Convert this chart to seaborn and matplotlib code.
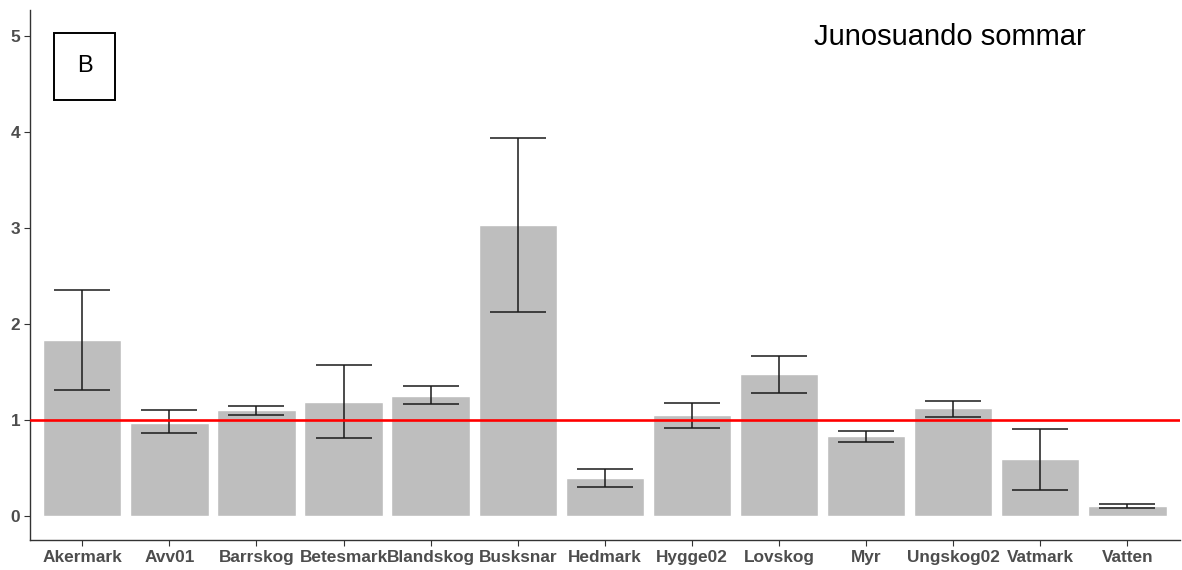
import numpy as np
import pandas as pd
import matplotlib
matplotlib.use("Agg")
import matplotlib.pyplot as plt
import seaborn as sns

# ----------------------------------------------------------
# Data
# ----------------------------------------------------------
categories = ["Akermark", "Avv01", "Barrskog", "Betesmark", "Blandskog", "Busksnar",
              "Hedmark", "Hygge02", "Lovskog", "Myr", "Ungskog02", "Vatmark", "Vatten"]
values = [1.83, 0.97, 1.10, 1.19, 1.25, 3.03, 0.40, 1.05, 1.48, 0.83, 1.12, 0.59, 0.10]
err_low = [1.31, 0.86, 1.05, 0.81, 1.17, 2.12, 0.30, 0.92, 1.28, 0.77, 1.03, 0.27, 0.08]
err_high = [2.35, 1.10, 1.15, 1.57, 1.35, 3.94, 0.49, 1.18, 1.67, 0.89, 1.20, 0.91, 0.125]
y_ticks = [0, 1, 2, 3, 4, 5]

df = pd.DataFrame({"habitat": categories, "value": values})

sns.set_style("white")
plt.rcParams["font.family"] = ["Liberation Sans", "DejaVu Sans"]

fig = plt.figure(figsize=(11.82, 5.70), dpi=100)
ax = fig.add_axes([0.0254, 0.0526, 0.9726, 0.9298])

sns.barplot(data=df, x="habitat", y="value", color="#bebebe", saturation=1,
            width=0.9, errorbar=None, ax=ax)

# error bars
pos = np.arange(len(categories))
vals = np.array(values)
yerr = np.vstack([vals - np.array(err_low), np.array(err_high) - vals])
ax.errorbar(pos, vals, yerr=yerr, fmt="none", ecolor="#1a1a1a",
            elinewidth=1.1, capsize=20, capthick=1.1, zorder=3)

# reference line
ax.axhline(1, color="red", linewidth=1.9, zorder=4)

ax.set_xlim(-0.6, len(categories) - 0.4)
ax.set_ylim(-0.25, 5.27)
ax.set_yticks(y_ticks)
ax.set_xlabel("")
ax.set_ylabel("")

for s in ["top", "right"]:
    ax.spines[s].set_visible(False)
for s in ["left", "bottom"]:
    ax.spines[s].set_color("#333333")
    ax.spines[s].set_linewidth(1.0)

ax.tick_params(axis="both", which="both", length=4, width=0.8, color="#333333",
               labelcolor="#4d4d4d", labelsize=12.4, pad=3, left=True, bottom=True)
for lab in ax.get_xticklabels() + ax.get_yticklabels():
    lab.set_fontweight("bold")

# title text and panel label
ax.text(0.80, 0.949, "Junosuando sommar", transform=ax.transAxes,
        fontsize=21, ha="center", va="center", color="black")
ax.text(0.0475, 0.894, "B", transform=ax.transAxes, fontsize=17,
        ha="center", va="center", color="black",
        bbox=dict(boxstyle="square,pad=0.95", facecolor="white",
                  edgecolor="black", linewidth=1.4))

plt.savefig("out.png", dpi=100)
